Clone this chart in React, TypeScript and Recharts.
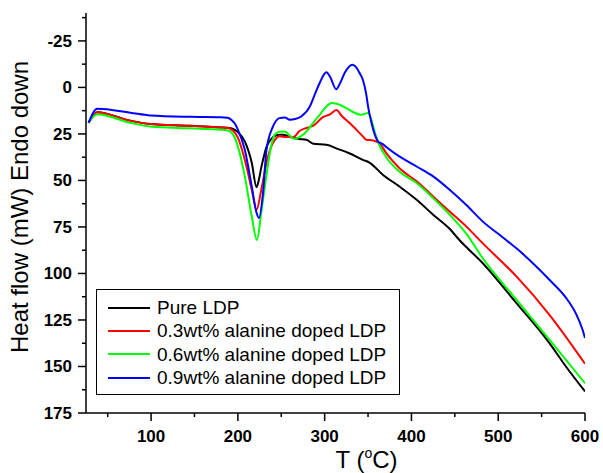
import React from 'react';
import { LineChart, Line, XAxis, YAxis } from 'recharts';

// temperatures (°C) and heat flow (mW)
const pureT = [28, 38, 76, 99, 145, 180, 188, 194, 200, 208, 216, 221.5, 224.5, 227, 230, 233, 237, 241, 248, 252, 260, 271, 279, 287, 302, 315, 329, 344, 352, 367, 386, 406, 425, 444, 455, 482, 521, 559, 578, 600];
const pureV = [19, 13.3, 17.9, 19.7, 20.6, 21.5, 21.7, 22.2, 24, 29, 40.5, 53.6, 49, 43, 37, 32, 28.5, 26.5, 25.4, 25.4, 26.7, 27.7, 28.1, 30.3, 30.8, 33, 35.5, 38.9, 40.5, 46.9, 53.2, 60.4, 68.4, 76, 81.9, 94.4, 115.9, 137.4, 150, 163.4];

const ala03T = [28, 38, 76, 99, 145, 180, 187, 192, 196, 200, 208, 216, 221.5, 227, 233, 240.5, 244.5, 248, 256, 264, 271, 279, 287, 298, 306, 313.5, 320, 328.8, 336.5, 344, 348, 356, 364, 371, 386, 406, 425, 444, 463, 482, 521, 559, 600];
const ala03V = [19, 13.3, 17.9, 19.7, 20.6, 21.5, 21.7, 22.4, 24, 27, 38.9, 55, 65.8, 55, 40.5, 29.7, 27.2, 26.3, 26.7, 26.7, 23.4, 21.8, 20.6, 16, 14.5, 12.2, 15.5, 19.1, 22.7, 26.3, 28.1, 28.5, 30.5, 35.3, 43.3, 50.5, 58.6, 66.7, 74.7, 83.7, 101.6, 122.2, 148.5];

const ala06T = [28, 38, 76, 99, 145, 180, 187, 192, 196, 200, 208, 216, 222, 227, 233, 237.5, 242.5, 248, 254, 259, 265.5, 272, 279, 286, 294.3, 302, 308, 314, 325, 334, 342, 350, 353.8, 356, 358, 363, 371, 386, 406, 425, 444, 463, 482, 521, 559, 600];
const ala06V = [19, 14.4, 19, 21, 22, 22.7, 23, 24, 26.5, 31.7, 47.8, 69.4, 82, 67, 47, 33.5, 25.4, 23.8, 23.7, 25.5, 27.7, 26.5, 23.7, 19.5, 14.7, 10.2, 8.4, 8.8, 11.1, 13.5, 14.7, 13.8, 17.4, 21, 24.5, 31, 37.5, 45.2, 51.4, 59.5, 68.4, 78.5, 91.7, 114.1, 135.6, 159];

const ala09T = [28, 38, 76, 99, 145, 180, 188, 193, 197, 200, 208, 216, 221.5, 224.3, 228.7, 233, 240.5, 248, 254, 260, 266, 273, 283, 288, 294.3, 302, 306.5, 313.3, 318, 323, 332, 336, 340.3, 344, 348, 350, 354, 357.5, 361.4, 367, 371, 386, 406, 425, 444, 463, 482, 505, 521, 559, 578, 590, 597, 600];
const ala09V = [19, 11.5, 13.6, 15.1, 15.8, 16.0, 16.3, 17.6, 19.8, 22.7, 33.5, 53.2, 67.4, 70.2, 58, 33.5, 21, 16.5, 16.2, 17.4, 17, 15.6, 10.2, 4.5, -2.4, -8.1, -5.5, 1, -2.5, -7.7, -12.2, -11, -7.7, -4.1, 3.9, 10.2, 19.1, 25, 29, 30.5, 32, 37.1, 42.5, 47.8, 55, 63.1, 72, 80.5, 86.5, 103.4, 113, 122, 130, 134.7];

const xTicks = [50, 100, 150, 200, 250, 300, 350, 400, 450, 500, 550, 600];
const yTicks = [-37.5, -25, -12.5, 0, 12.5, 25, 37.5, 50, 62.5, 75, 87.5, 100, 112.5, 125, 137.5, 150, 162.5, 175];

const zip = (t: number[], v: number[]) => t.map((x, i) => ({ t: x, v: v[i] }));

const series = [
  { name: 'Pure LDP', color: '#000000', data: zip(pureT, pureV) },
  { name: '0.3wt% alanine doped LDP', color: '#ff0000', data: zip(ala03T, ala03V) },
  { name: '0.6wt% alanine doped LDP', color: '#00ff00', data: zip(ala06T, ala06V) },
  { name: '0.9wt% alanine doped LDP', color: '#0000ff', data: zip(ala09T, ala09V) },
];

const FONT = 'Arial, "Liberation Sans", Helvetica, sans-serif';

const YTick = (props: any) => {
  const { x, y, payload } = props;
  const major = payload.value % 25 === 0;
  return (
    <g>
      <line x1={x - (major ? 8 : 4)} x2={x} y1={y} y2={y} stroke="#000" strokeWidth={1.5} />
      {major && (
        <text x={x - 14} y={y} dy={6} textAnchor="end" fontSize={17} fontWeight="bold" fontFamily={FONT} fill="#000">
          {payload.value}
        </text>
      )}
    </g>
  );
};

const XTick = (props: any) => {
  const { x, y, payload } = props;
  const major = payload.value % 100 === 0;
  return (
    <g>
      <line x1={x} x2={x} y1={y} y2={y + (major ? 8 : 4)} stroke="#000" strokeWidth={1.5} />
      {major && (
        <text x={x} y={y + 29} textAnchor="middle" fontSize={17} fontWeight="bold" fontFamily={FONT} fill="#000">
          {payload.value}
        </text>
      )}
    </g>
  );
};

const YLabel = (props: any) => {
  const { viewBox } = props;
  const cx = viewBox.x + 28;
  const cy = viewBox.y + 194;
  return (
    <text x={cx} y={cy} textAnchor="middle" transform={`rotate(-90 ${cx} ${cy})`} fontSize={24} fontFamily={FONT} fill="#000">
      Heat flow (mW) Endo down
    </text>
  );
};

const XLabel = (props: any) => {
  const { viewBox } = props;
  const x = viewBox.x + viewBox.width / 2;
  const y = viewBox.y + 55;
  return (
    <text x={x} y={y} textAnchor="start" fontSize={24} fontFamily={FONT} fill="#000">
      T (<tspan fontSize={14} dy={-10}>o</tspan><tspan dy={10}>C)</tspan>
    </text>
  );
};

const ChartLegend = () => (
  <div
    style={{
      position: 'absolute',
      left: 96,
      top: 289,
      width: 304,
      height: 106,
      boxSizing: 'border-box',
      border: '1px solid #000',
      background: '#fff',
      paddingTop: 6,
      fontFamily: FONT,
      fontSize: 19,
    }}
  >
    {series.map((s) => (
      <div key={s.name} style={{ height: 23.3, display: 'flex', alignItems: 'center', paddingLeft: 11 }}>
        <div style={{ width: 42, height: 2, background: s.color, marginRight: 7 }} />
        <span style={{ whiteSpace: 'nowrap', lineHeight: 1 }}>{s.name}</span>
      </div>
    ))}
  </div>
);

export default function App() {
  return (
    <div style={{ position: 'absolute', left: 0, top: 0, width: 603, height: 473, background: '#fff' }}>
      <LineChart width={603} height={473} margin={{ top: 13, right: 18, bottom: 30, left: 0 }}>
        <XAxis
          type="number"
          dataKey="t"
          domain={[25, 600]}
          ticks={xTicks}
          interval={0}
          tick={<XTick />}
          tickLine={false}
          tickSize={0}
          tickMargin={0}
          height={30}
          axisLine={{ stroke: '#000', strokeWidth: 1.5 }}
          allowDataOverflow
          label={<XLabel />}
        />
        <YAxis
          type="number"
          domain={[-40, 175]}
          reversed
          ticks={yTicks}
          interval={0}
          tick={<YTick />}
          tickLine={false}
          tickSize={0}
          tickMargin={0}
          width={86}
          axisLine={{ stroke: '#000', strokeWidth: 1.5 }}
          allowDataOverflow
          label={<YLabel />}
        />
        {series.map((s) => (
          <Line
            key={s.name}
            data={s.data}
            dataKey="v"
            name={s.name}
            type="monotone"
            stroke={s.color}
            strokeWidth={2}
            dot={false}
            activeDot={false}
            isAnimationActive={false}
          />
        ))}
      </LineChart>
      <ChartLegend />
    </div>
  );
}
